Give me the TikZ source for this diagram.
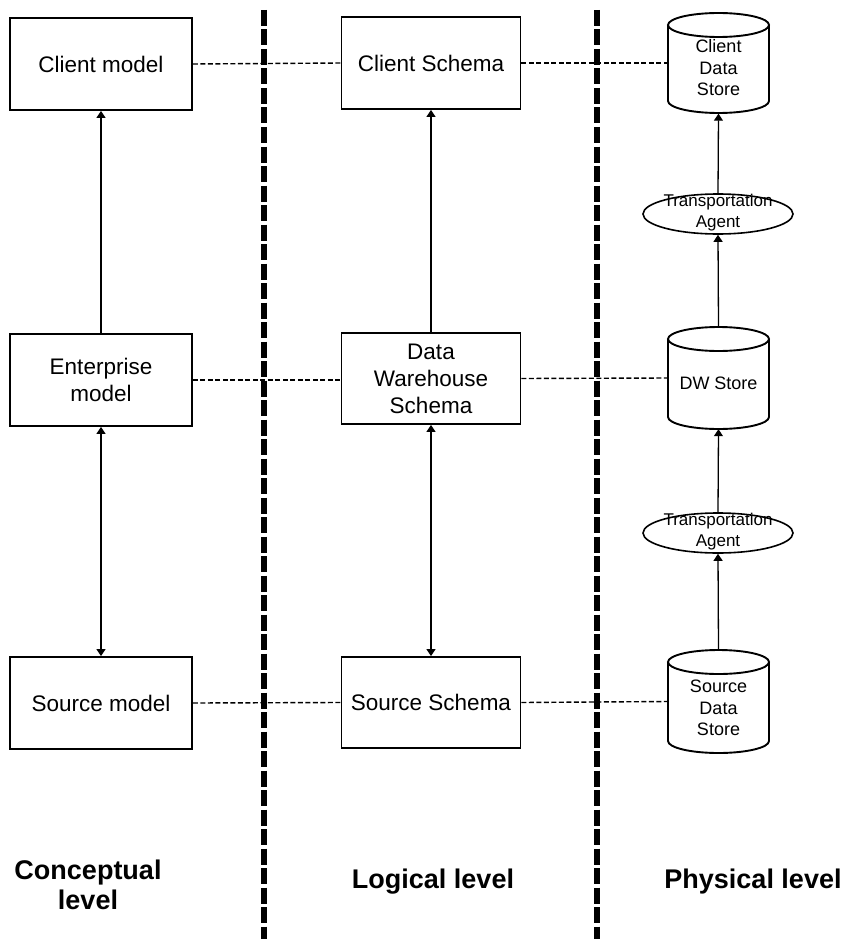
\documentclass[tikz,border=0pt]{standalone}
\usepackage{fontspec}
\setmainfont{Liberation Sans}
\usetikzlibrary{arrows.meta,shapes.geometric}
\tikzset{
  x=1pt, y=1pt,
  box/.style={draw, line width=1.9pt, minimum width=182pt, minimum height=92pt, inner sep=0pt, align=center, font=\fontsize{22.5}{27}\selectfont},
  cylbox/.style={minimum width=101pt, minimum height=101pt, inner sep=0pt},
  cyltext/.style={align=center, inner sep=0pt, font=\fontsize{18}{21.5}\selectfont},
  agent/.style={draw, ellipse, line width=1.6pt, minimum width=150pt, minimum height=40pt, inner sep=0pt},
  agenttext/.style={align=center, inner sep=0pt, font=\fontsize{17}{21}\selectfont},
  cylline/.style={line width=1.9pt},
  sep/.style={line width=5.5pt, dash pattern=on 16pt off 3.5pt},
  link/.style={line width=1.4pt, dash pattern=on 5pt off 2.5pt},
  arr/.style={line width=1.3pt, -{Triangle[width=9pt,length=7pt]}},
  darr/.style={line width=1.3pt, {Triangle[width=9pt,length=7pt]}-{Triangle[width=9pt,length=7pt]}},
  level/.style={align=center, inner sep=0pt, font=\fontsize{27}{30}\selectfont\bfseries}
}
\begin{document}
\begin{tikzpicture}
\useasboundingbox (0,0) rectangle (841,-939);
% separators
\draw[sep] (264,-10) -- (264,-939);
\draw[sep] (597,-10) -- (597,-939);
% conceptual
\node[box] (cm) at (101,-64) {Client model};
\node[box] (em) at (101,-380) {Enterprise\\model};
\node[box] (sm) at (101,-703) {Source model};
% logical
\node[box, minimum width=179pt] (cs) at (431,-63) {Client Schema};
\node[box, minimum width=179pt, minimum height=91pt] (dws) at (431,-378.5) {Data\\Warehouse\\Schema};
\node[box, minimum width=179pt, minimum height=91pt] (ss) at (431,-702.5) {Source Schema};
% physical cylinders (shapes)
\draw[cylline] (718.5,-25) ellipse [x radius=50.5, y radius=12];
\draw[cylline] (668,-25) -- (668,-101) arc[start angle=180, end angle=360, x radius=50.5, y radius=12] -- (769,-25);
\draw[cylline] (718.5,-339) ellipse [x radius=50.5, y radius=12];
\draw[cylline] (668,-339) -- (668,-417) arc[start angle=180, end angle=360, x radius=50.5, y radius=12] -- (769,-417) -- (769,-339);
\draw[cylline] (718.5,-662) ellipse [x radius=50.5, y radius=12];
\draw[cylline] (668,-662) -- (668,-741) arc[start angle=180, end angle=360, x radius=50.5, y radius=12] -- (769,-662);
\node[cylbox] (cds) at (718.5,-63) {};
\node[cylbox, minimum height=102pt] (dw) at (718.5,-378) {};
\node[cylbox, minimum height=103pt] (sds) at (718.5,-701.5) {};
\node[cyltext] (cdst) at (718.5,-68) {Client\\Data\\Store};
\node[cyltext] (dwt) at (718.5,-383) {DW Store};
\node[cyltext] (sdst) at (718.5,-708) {Source\\Data\\Store};
% agents
\node[agent] (ta1) at (718,-214) {};
\node[agenttext] (ta1t) at (718,-213) {Transportation\\Agent};
\node[agent] (ta2) at (718,-533) {};
\node[agenttext] (ta2t) at (718,-532) {Transportation\\Agent};
% dashed links
\draw[link] (cm.east) -- (cs.west);
\draw[link] (cs.east) -- (cds.west);
\draw[link] (em.east) -- (dws.west |- em.east);
\draw[link] (dws.east) -- (dw.west);
\draw[link] (sm.east) -- (ss.west);
\draw[link] (ss.east) -- (sds.west);
% arrows
\draw[arr] (em.north) -- (cm.south);
\draw[darr] (em.south) -- (sm.north);
\draw[arr] (dws.north) -- (cs.south);
\draw[darr] (dws.south) -- (ss.north);
\draw[arr] (ta1.north) -- (cds.south);
\draw[arr] (dw.north) -- (ta1.south);
\draw[arr] (ta2.north) -- (dw.south);
\draw[arr] (sds.north) -- (ta2.south);
% level labels
\node[level] (cl) at (88,-885) {Conceptual\\level};
\node[level] (ll) at (433,-882) {Logical level};
\node[level] (pl) at (753,-882) {Physical level};
\end{tikzpicture}
\end{document}
